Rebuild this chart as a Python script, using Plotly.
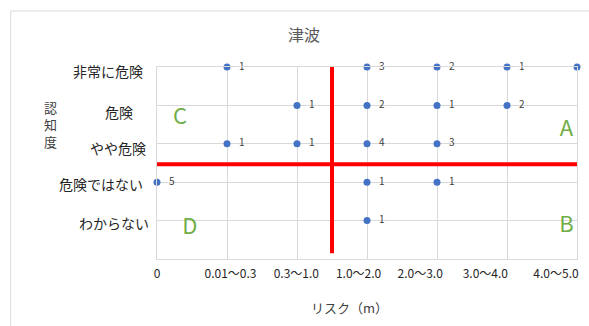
import plotly.graph_objects as go

# Data
y_labels = ["わからない", "危険ではない", "やや危険", "危険", "非常に危険"]
y_vals = [1, 2, 3, 4, 5]
x_labels = ["0", "0.01〜0.3", "0.3〜1.0", "1.0〜2.0", "2.0〜3.0", "3.0〜4.0", "4.0〜5.0"]
x_label_pos = [0, 1.05, 1.99, 2.88, 3.76, 4.69, 5.7]

pts_x = [1, 3, 4, 5, 6,
         2, 3, 4, 5,
         1, 2, 3, 4,
         0, 3, 4,
         3]
pts_y = [5, 5, 5, 5, 5,
         4, 4, 4, 4,
         3, 3, 3, 3,
         2, 2, 2,
         1]
counts = [1, 3, 2, 1, 1,
          1, 2, 1, 2,
          1, 1, 4, 3,
          5, 1, 1,
          1]

quad_letters = ["C", "A", "D", "B"]
quad_x = [0.33, 5.85, 0.47, 5.85]
quad_y = [3.67, 3.35, 0.79, 0.84]

v_line_x = [2.5, 2.5]
v_line_y = [5, 0.15]
h_line_x = [0, 6]
h_line_y = [2.47, 2.47]

FONT = "Noto Sans CJK JP"
PW, PH = 422, 192  # plot area size in px
L, T = 157, 67

def px_x(px):
    return (px - L) / PW

def px_y(py):
    return (T + PH - py) / PH

# y label centre positions (px) as in the Excel layout
ylab_cx = [114, 101, 117.5, 119, 108]
ylab_cy = [223, 184, 148, 112, 71]

fig = go.Figure()
fig.add_trace(go.Scatter(x=v_line_x, y=v_line_y, mode="lines",
                         line=dict(color="#ff0000", width=4), hoverinfo="skip",
                         showlegend=False, cliponaxis=False))
fig.add_trace(go.Scatter(x=h_line_x, y=h_line_y, mode="lines",
                         line=dict(color="#ff0000", width=4), hoverinfo="skip",
                         showlegend=False, cliponaxis=False))
fig.add_trace(go.Scatter(x=pts_x, y=pts_y, mode="markers+text",
                         marker=dict(color="#4472C4", size=7),
                         text=["&nbsp;&nbsp;&nbsp;" + str(c) for c in counts],
                         textposition="middle right",
                         textfont=dict(size=10, color="#404040", family=FONT),
                         showlegend=False, cliponaxis=False))
fig.add_trace(go.Scatter(x=quad_x, y=quad_y, mode="text", text=quad_letters,
                         textfont=dict(size=22, color="#70AD47", family=FONT),
                         showlegend=False, cliponaxis=False, hoverinfo="skip"))

annotations = []
for lab, cx, cy in zip(y_labels, ylab_cx, ylab_cy):
    annotations.append(dict(text=lab, xref="paper", yref="paper", x=px_x(cx), y=px_y(cy),
                            xanchor="center", yanchor="middle", showarrow=False,
                            font=dict(size=14, color="#262626", family=FONT)))
annotations.append(dict(text="認<br>知<br>度", xref="paper", yref="paper",
                        x=px_x(50), y=px_y(124), xanchor="center", yanchor="middle",
                        showarrow=False, font=dict(size=13, color="#404040", family=FONT)))
annotations.append(dict(text="リスク（m）", xref="paper", yref="paper",
                        x=px_x(350), y=px_y(307), xanchor="center", yanchor="middle",
                        showarrow=False, font=dict(size=13, color="#404040", family=FONT)))

fig.update_layout(
    width=589, height=326,
    margin=dict(l=L, r=10, t=T, b=67),
    paper_bgcolor="white", plot_bgcolor="white",
    font=dict(family=FONT, color="#404040"),
    title=dict(text="津波", x=304/589, xanchor="center", y=1 - 35/326, yanchor="middle",
               font=dict(size=16, color="#595959", family=FONT)),
    xaxis=dict(range=[0, 6], dtick=1, tick0=0, showgrid=True, gridcolor="#d9d9d9",
               gridwidth=1, showticklabels=False, zeroline=False,
               showline=True, linecolor="#d9d9d9", mirror=True, fixedrange=True),
    xaxis2=dict(overlaying="x", matches="x", side="bottom", tickvals=x_label_pos,
                ticktext=x_labels, showgrid=False, zeroline=False, ticks="",
                ticklabelstandoff=6,
                tickfont=dict(size=12, color="#262626", family=FONT)),
    yaxis=dict(range=[0, 5], tickvals=y_vals, showgrid=True, showticklabels=False,
               gridcolor="#d9d9d9", zeroline=False, showline=True,
               linecolor="#d9d9d9", mirror=True, ticks="", fixedrange=True),
    shapes=[dict(type="rect", xref="paper", yref="paper",
                 x0=px_x(10), x1=1.1, y0=-1.0, y1=px_y(11),
                 line=dict(color="#d9d9d9", width=1), fillcolor="rgba(0,0,0,0)",
                 layer="below")],
    annotations=annotations,
)
# dummy trace to activate xaxis2
fig.add_trace(go.Scatter(x=[0], y=[0], xaxis="x2", mode="markers",
                         marker=dict(opacity=0), showlegend=False, hoverinfo="skip"))

fig.write_html("out.html", config={"displayModeBar": False},
               post_script="document.body.style.margin='0';document.body.style.overflow='hidden';")
